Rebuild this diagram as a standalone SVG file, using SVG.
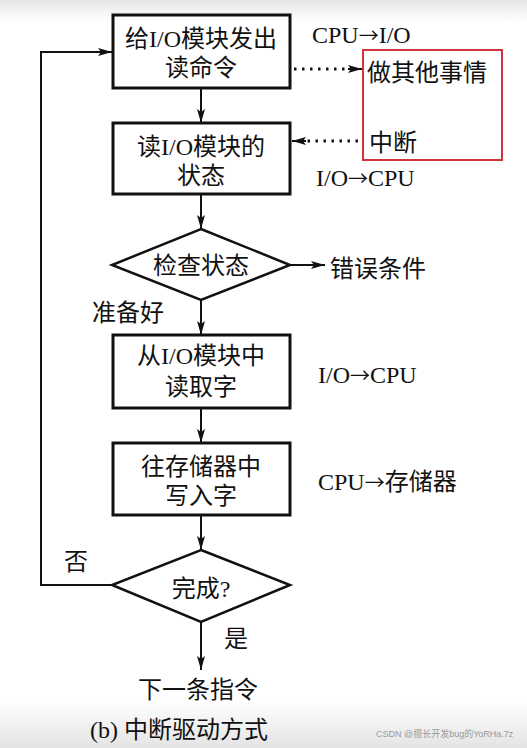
<svg xmlns="http://www.w3.org/2000/svg" width="527" height="748" viewBox="0 0 527 748">
<defs>
<linearGradient id="gt" x1="0" y1="0" x2="0" y2="1"><stop offset="0" stop-color="#e6e6e6"/><stop offset="1" stop-color="#ffffff"/></linearGradient>
<linearGradient id="gb" x1="0" y1="0" x2="0" y2="1"><stop offset="0" stop-color="#ffffff"/><stop offset="1" stop-color="#e4e4e4"/></linearGradient>
<marker id="ah" viewBox="0 0 14 8" refX="14" refY="4" markerWidth="14" markerHeight="8" markerUnits="userSpaceOnUse" orient="auto"><path d="M0,0 L14,4 L0,8 L3,4 Z" fill="#111"/></marker>
<style>
.box{fill:#fff;stroke:#111;stroke-width:3}
.dia{fill:#fff;stroke:#111;stroke-width:2.5}
.ln{fill:none;stroke:#111;stroke-width:2}
.dot{fill:none;stroke:#111;stroke-width:3;stroke-dasharray:2.5 5.5}
.t{font-family:"Liberation Serif","Noto Sans CJK SC",serif;font-size:24px;fill:#111}
.c{text-anchor:middle}
.ar{font-family:"Noto Sans CJK SC",sans-serif;font-size:20px}
</style>
</defs>
<rect x="0" y="0" width="527" height="748" fill="#fff"/>
<rect x="0" y="0" width="527" height="22" fill="url(#gt)"/>
<rect x="0" y="700" width="527" height="48" fill="url(#gb)"/>

<g id="connectors">
<line class="ln" x1="201" y1="88" x2="201" y2="123" marker-end="url(#ah)"/>
<line class="ln" x1="201" y1="194" x2="201" y2="229" marker-end="url(#ah)"/>
<line class="ln" x1="290" y1="265" x2="325" y2="265" marker-end="url(#ah)"/>
<line class="ln" x1="201" y1="300" x2="201" y2="335" marker-end="url(#ah)"/>
<line class="ln" x1="201" y1="408" x2="201" y2="443" marker-end="url(#ah)"/>
<line class="ln" x1="201" y1="515" x2="201" y2="550" marker-end="url(#ah)"/>
<line class="ln" x1="201" y1="622" x2="201" y2="670" marker-end="url(#ah)"/>
<polyline class="ln" points="113,585 41,585 41,52 112,52" marker-end="url(#ah)"/>
<line class="dot" x1="294" y1="69" x2="350" y2="69"/>
<line class="ln" x1="348" y1="69" x2="362" y2="69" marker-end="url(#ah)"/>
<line class="dot" x1="358" y1="141" x2="304" y2="141"/>
<line class="ln" x1="306" y1="141" x2="292" y2="141" marker-end="url(#ah)"/>
</g>

<g id="n1"><rect class="box" x="113" y="15" width="177" height="73"/>
<text class="t c" x="201" y="47">给I/O模块发出</text><text class="t c" x="201" y="76">读命令</text></g>
<g id="n2"><rect class="box" x="113" y="123" width="177" height="71"/>
<text class="t c" x="201" y="155">读I/O模块的</text><text class="t c" x="201" y="184">状态</text></g>
<g id="n3"><polygon class="dia" points="201,229 290,265 201,300 112,265"/>
<text class="t c" x="201" y="274">检查状态</text></g>
<g id="n4"><rect class="box" x="113" y="335" width="177" height="73"/>
<text class="t c" x="201" y="364">从I/O模块中</text><text class="t c" x="201" y="395">读取字</text></g>
<g id="n5"><rect class="box" x="113" y="443" width="177" height="72"/>
<text class="t c" x="201" y="475">往存储器中</text><text class="t c" x="201" y="504">写入字</text></g>
<g id="n6"><polygon class="dia" points="201,550 290,585 201,622 112,585"/>
<text class="t c" x="201" y="597">完成?</text></g>
<g id="n7"><text class="t c" x="198" y="698">下一条指令</text></g>
<g id="n8"><rect x="363" y="50" width="139" height="110" fill="none" stroke="#d0343c" stroke-width="2"/>
<text class="t" x="367" y="81">做其他事情</text><text class="t" x="369" y="151">中断</text></g>

<g id="labels">
<text class="t" x="312" y="43">CPU<tspan class="ar">→</tspan>I/O</text>
<text class="t" x="316" y="186">I/O<tspan class="ar">→</tspan>CPU</text>
<text class="t" x="330" y="277">错误条件</text>
<text class="t" x="92" y="321">准备好</text>
<text class="t" x="318" y="383">I/O<tspan class="ar">→</tspan>CPU</text>
<text class="t" x="318" y="490">CPU<tspan class="ar">→</tspan>存储器</text>
<text class="t" x="64" y="570">否</text>
<text class="t" x="224" y="647">是</text>
<text class="t" x="90" y="738">(b) 中断驱动方式</text>
<text x="376" y="737" font-family="'Liberation Sans','Noto Sans CJK SC',sans-serif" font-size="9" fill="#999">CSDN @擅长开发bug的YoRHa.7z</text>
</g>
</svg>
